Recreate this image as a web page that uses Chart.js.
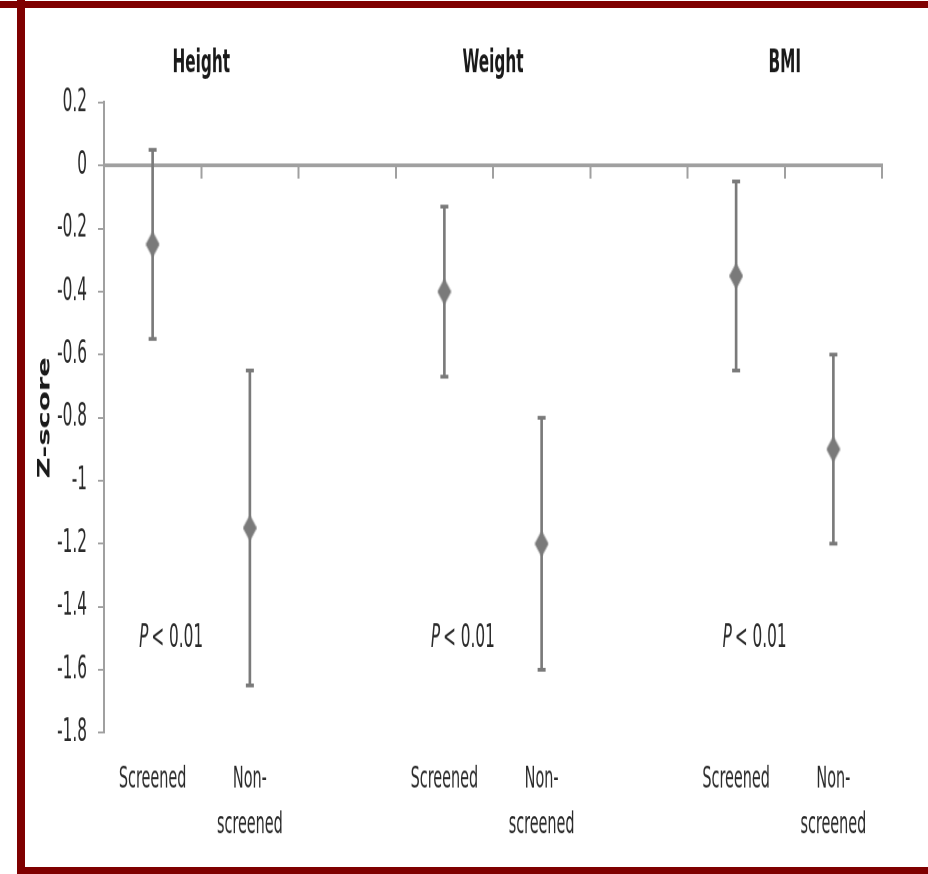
<!DOCTYPE html>
<html>
<head>
<meta charset="utf-8">
<script src="https://cdn.jsdelivr.net/npm/chart.js@4/dist/chart.umd.min.js"></script>
<style>
  html, body { margin: 0; padding: 0; background: #fff; }
  body { width: 928px; height: 874px; position: relative; overflow: hidden; }
  #wrap { position: absolute; left: 0; top: 0; width: 928px; height: 460px;
          transform: scaleY(1.9); transform-origin: 0 0; }
  .bar { position: absolute; background: #7f0000; }
</style>
</head>
<body>
<div id="wrap"><canvas id="c" width="928" height="460"></canvas></div>
<div class="bar" style="left:0;top:1px;width:928px;height:7px;"></div>
<div class="bar" style="left:17px;top:0;width:8px;height:874px;"></div>
<div class="bar" style="left:17px;top:867px;width:911px;height:7px;"></div>
<script>
// ---- data ----
const categories = ['Screened', ['Non-', 'screened'], '', 'Screened', ['Non-', 'screened'], '', 'Screened', ['Non-', 'screened']];
const means = [-0.25, -1.15, null, -0.40, -1.20, null, -0.35, -0.90];
const upper = [0.05, -0.65, null, -0.13, -0.80, null, -0.05, -0.60];
const lower = [-0.55, -1.65, null, -0.67, -1.60, null, -0.65, -1.20];
const groupTitles = ['Height', 'Weight', 'BMI'];
const groupStarts = [0, 3, 6];
const pValueText = '< 0.01';
const pValueY = -1.5;
const yTicks = [0.2, 0, -0.2, -0.4, -0.6, -0.8, -1, -1.2, -1.4, -1.6, -1.8];
const yTitle = 'Z-score';

const FONT = "'Liberation Sans Narrow', 'Arial Narrow', 'DejaVu Sans Condensed', sans-serif";
const GREY = '#7a7a7a';
const AXIS = '#a0a0a0';

// diamond marker image (stretched vertically by the page transform)
const diamond = document.createElement('canvas');
diamond.width = 14; diamond.height = 14;
(function () {
  const g = diamond.getContext('2d');
  g.fillStyle = GREY;
  g.beginPath();
  g.moveTo(7, 0); g.lineTo(14, 7); g.lineTo(7, 14); g.lineTo(0, 7);
  g.closePath(); g.fill();
})();

const errorRanges = upper.map((u, i) => (u === null ? null : [lower[i], u]));

const textPlugin = {
  id: 'texts',
  afterDraw(chart) {
    const ctx = chart.ctx;
    const x = chart.scales.x, y = chart.scales.y;
    ctx.save();
    ctx.textBaseline = 'middle';
    ctx.textAlign = 'center';
    ctx.fillStyle = '#1a1a1a';
    ctx.font = 'bold 17px ' + FONT;
    groupStarts.forEach((s, k) => {
      const px = (x.getPixelForValue(s) + x.getPixelForValue(s + 1)) / 2;
      ctx.fillText(groupTitles[k], px, 33.5);
    });
    ctx.fillStyle = '#2a2a2a';
    groupStarts.forEach((s) => {
      const cx = x.getPixelForValue(s + 0.19);
      const cy = y.getPixelForValue(pValueY);
      ctx.font = 'italic 17px ' + FONT;
      const wP = ctx.measureText('P').width;
      ctx.font = '17px ' + FONT;
      const wR = ctx.measureText(pValueText).width + 3;
      const left = cx - (wP + wR) / 2;
      ctx.textAlign = 'left';
      ctx.font = 'italic 17px ' + FONT;
      ctx.fillText('P', left, cy);
      ctx.font = '17px ' + FONT;
      ctx.fillText(pValueText, left + wP + 3, cy);
      ctx.textAlign = 'center';
    });
    ctx.restore();
  }
};

new Chart(document.getElementById('c'), {
  data: {
    labels: categories,
    datasets: [
      { type: 'bar', data: errorRanges, backgroundColor: GREY, barThickness: 2, grouped: false, order: 3 },
      { type: 'line', data: upper, showLine: false, pointStyle: 'line', pointRadius: 4, pointBorderWidth: 2,
        pointBorderColor: GREY, borderColor: GREY, order: 2 },
      { type: 'line', data: lower, showLine: false, pointStyle: 'line', pointRadius: 4, pointBorderWidth: 2,
        pointBorderColor: GREY, borderColor: GREY, order: 2 },
      { type: 'line', data: means, showLine: false, pointStyle: diamond, pointRadius: 7, order: 1 }
    ]
  },
  options: {
    responsive: false,
    animation: false,
    devicePixelRatio: 2,
    layout: { padding: { top: 54, right: 46, bottom: 1, left: 0 } },
    plugins: { legend: { display: false }, tooltip: { enabled: false } },
    scales: {
      x: {
        type: 'category',
        position: 'bottom',
        offset: true,
        grid: { display: false, drawTicks: false },
        border: { display: false },
        ticks: { color: '#2a2a2a', font: { family: FONT, size: 16, lineHeight: 1.48 },
                 padding: 13, maxRotation: 0, autoSkip: false }
      },
      x2: {
        type: 'category',
        labels: categories,
        position: { y: 0 },
        offset: true,
        afterFit: (scale) => { scale.height = 0; },
        grid: { display: true, drawOnChartArea: false, drawTicks: true, tickLength: 6, offset: true,
                color: AXIS, lineWidth: 2 },
        border: { display: true, color: AXIS, width: 2 },
        ticks: { display: false }
      },
      y: {
        type: 'linear',
        position: 'left',
        min: -1.8,
        max: 0.2,
        afterBuildTicks: (scale) => { scale.ticks = yTicks.map(v => ({ value: v })); },
        afterFit: (scale) => { scale.width = 104; },
        grid: { display: true, drawOnChartArea: false, drawTicks: true, tickLength: 6, color: AXIS, lineWidth: 1 },
        border: { display: true, color: AXIS, width: 2 },
        ticks: { color: '#2a2a2a', font: { family: FONT, size: 17 }, padding: 11,
                 callback: (v) => String(Math.round(v * 10) / 10) },
        title: { display: true, text: yTitle, color: '#1a1a1a', padding: { top: 35, bottom: 0 },
                 font: { family: FONT, size: 17, weight: 'bold' } }
      }
    }
  },
  plugins: [textPlugin]
});
</script>
</body>
</html>
